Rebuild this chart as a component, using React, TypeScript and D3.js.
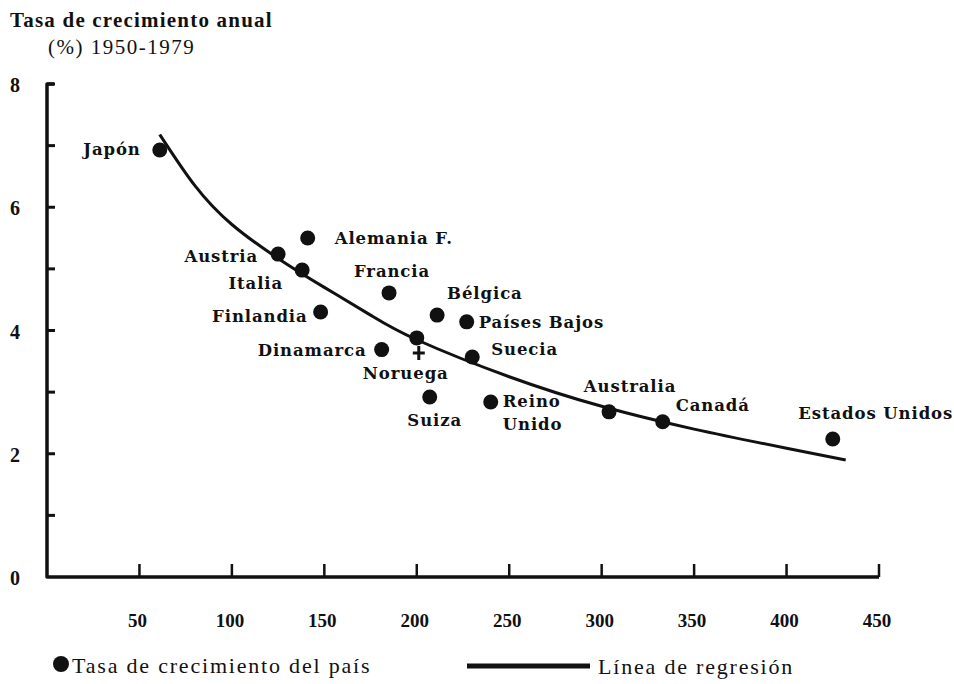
import React from "react";
import * as d3 from "d3";

// ---- data ----
const countries = ["Japón", "Austria", "Alemania F.", "Italia", "Finlandia", "Francia", "Bélgica", "Países Bajos", "Dinamarca", "Noruega", "Suecia", "Suiza", "Reino Unido", "Australia", "Canadá", "Estados Unidos"];
const xValues = [61, 125, 141, 138, 148, 185, 211, 227, 181, 200, 230, 207, 240, 304, 333, 425];
const yValues = [6.93, 5.24, 5.5, 4.98, 4.3, 4.61, 4.25, 4.14, 3.69, 3.88, 3.57, 2.92, 2.84, 2.68, 2.52, 2.24];
const regX = [61, 80, 100, 125, 150, 175, 200, 250, 300, 350, 400, 432];
const regY = [7.18, 6.35, 5.72, 5.17, 4.7, 4.25, 3.85, 3.25, 2.77, 2.4, 2.09, 1.9];
const xTicks = [50, 100, 150, 200, 250, 300, 350, 400, 450];
const yTickLabels = [0, 2, 4, 6, 8];
const yTicks = [1, 2, 3, 4, 5, 6, 7, 8];
const titleLines = ["Tasa de crecimiento anual", "(%) 1950-1979"];
const legendLabels = ["Tasa de crecimiento del país", "Línea de regresión"];

// label layout: [dx, dy, anchor, lines]
const labelLayout: [number, number, string, string[]][] = [
  [-19, -1, "end", ["Japón"]],
  [-20, 2, "end", ["Austria"]],
  [27, 0, "start", ["Alemania F."]],
  [-19, 13, "end", ["Italia"]],
  [-13, 4, "end", ["Finlandia"]],
  [3, -22, "middle", ["Francia"]],
  [10, -22, "start", ["Bélgica"]],
  [12, 0, "start", ["Países Bajos"]],
  [-15, 0, "end", ["Dinamarca"]],
  [-11, 35, "middle", ["Noruega"]],
  [19, -8, "start", ["Suecia"]],
  [5, 23, "middle", ["Suiza"]],
  [12, 11, "start", ["Reino", "Unido"]],
  [21, -26, "middle", ["Australia"]],
  [13, -17, "start", ["Canadá"]],
  [43, -26, "middle", ["Estados Unidos"]],
];

const W = 954;
const H = 684;

export default function App() {
  const x = d3.scaleLinear().domain([0, 450]).range([47, 879]);
  const y = d3.scaleLinear().domain([0, 8]).range([577, 84]);
  const line = d3
    .line<number>()
    .x((_, i) => x(regX[i]))
    .y((d) => y(d))
    .curve(d3.curveNatural);
  const font = "'DejaVu Serif', serif";
  const lfont = "'Liberation Serif', 'Times New Roman', serif";
  const noruegaIdx = countries.indexOf("Noruega");

  return (
    <svg width={W} height={H} style={{ position: "absolute", left: 0, top: 0, background: "#fff" }}>
      <rect width={W} height={H} fill="#fff" />
      {/* title */}
      <text x={10} y={27} fontFamily={lfont} fontWeight="bold" fontSize={21} letterSpacing={1.2} fill="#111">
        {titleLines[0]}
      </text>
      <text x={48} y={54} fontFamily={lfont} fontSize={21} letterSpacing={1.5} fill="#111">
        {titleLines[1]}
      </text>

      {/* axes */}
      <path
        d={`M${x(0) + 7},${y(8)} L${x(0)},${y(8)} L${x(0)},${y(0)} L${x(450)},${y(0)}`}
        fill="none"
        stroke="#111"
        strokeWidth={3.5}
        strokeLinejoin="round"
      />
      {yTicks.map((t) => (
        <line key={"yt" + t} x1={x(0)} x2={x(0) + 8} y1={y(t)} y2={y(t)} stroke="#111" strokeWidth={3} />
      ))}
      {xTicks.map((t) => (
        <line key={"xt" + t} x1={x(t)} x2={x(t)} y1={y(0)} y2={y(0) - 13} stroke="#111" strokeWidth={2.5} />
      ))}
      {yTickLabels.map((t) => (
        <text key={"yl" + t} x={15} y={y(t) + 8} textAnchor="middle" fontFamily={lfont} fontWeight="bold" fontSize={20} fill="#111">
          {t}
        </text>
      ))}
      {xTicks.map((t) => (
        <text key={"xl" + t} x={x(t) - 2} y={627} textAnchor="middle" fontFamily={lfont} fontWeight="bold" fontSize={19} fill="#111">
          {t}
        </text>
      ))}

      {/* regression line */}
      <path d={line(regY) || ""} fill="none" stroke="#111" strokeWidth={3} />

      {/* points */}
      {countries.map((c, i) => (
        <circle key={"p" + c} cx={x(xValues[i])} cy={y(yValues[i])} r={7.5} fill="#111" />
      ))}
      {/* small cross mark below Noruega */}
      <path
        d={`M${x(xValues[noruegaIdx]) + 2},${y(yValues[noruegaIdx]) + 8} l0,14 M${x(xValues[noruegaIdx]) - 4},${y(yValues[noruegaIdx]) + 15} l12,0`}
        stroke="#111"
        strokeWidth={3}
      />

      {/* labels */}
      {countries.map((c, i) => {
        const [dx, dy, anchor, lines] = labelLayout[i];
        const cx = x(xValues[i]) + dx;
        const cy = y(yValues[i]) + dy;
        return (
          <text
            key={"l" + c}
            x={cx}
            y={cy}
            textAnchor={anchor as any}
            fontFamily={font}
            fontWeight="bold"
            fontSize={16.5}
            letterSpacing={0.9}
            fill="#111"
          >
            {lines.map((ln, k) => (
              <tspan key={k} x={cx} dy={k === 0 ? 6 - (lines.length - 1) * 11.5 : 23}>
                {ln}
              </tspan>
            ))}
          </text>
        );
      })}

      {/* legend */}
      <circle cx={61} cy={664} r={8} fill="#111" />
      <text x={72} y={673} fontFamily={lfont} fontSize={22} letterSpacing={1.8} fill="#111">
        {legendLabels[0]}
      </text>
      <line x1={467} x2={590} y1={666} y2={666} stroke="#111" strokeWidth={5} />
      <text x={598} y={674} fontFamily={lfont} fontSize={22} letterSpacing={1.8} fill="#111">
        {legendLabels[1]}
      </text>
    </svg>
  );
}
